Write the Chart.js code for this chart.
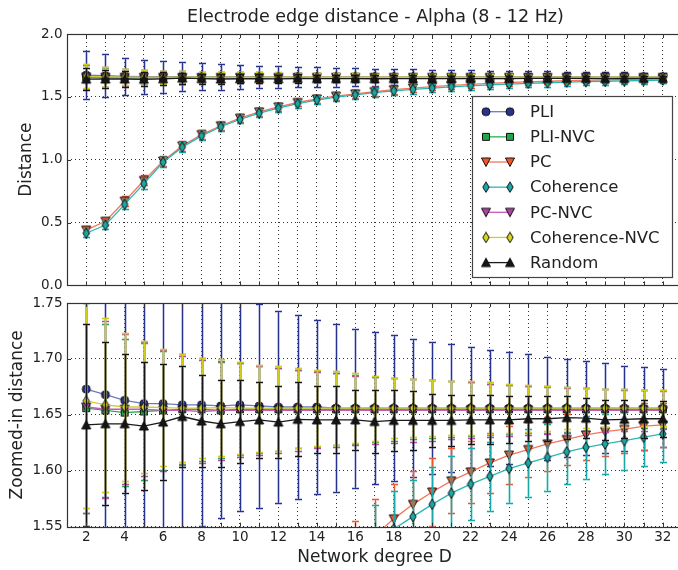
<!DOCTYPE html>
<html>
<head>
<meta charset="utf-8">
<script src="https://cdn.jsdelivr.net/npm/chart.js@4.4.1/dist/chart.umd.min.js"></script>
<style>
  html, body { margin: 0; padding: 0; background: #fff; overflow: hidden; }
  #wrap { position: relative; width: 678px; height: 570px; overflow: hidden; }
  canvas { position: absolute; left: 0; }
  #topChart { top: 0; }
  #bottomChart { top: 290px; }
</style>
</head>
<body>
<div id="wrap">
  <canvas id="topChart" width="690" height="298"></canvas>
  <canvas id="bottomChart" width="690" height="280"></canvas>
</div>
<script>
// Network degree D
const degrees = [2, 3, 4, 5, 6, 7, 8, 9, 10, 11, 12, 13, 14, 15, 16, 17, 18, 19, 20, 21, 22, 23, 24, 25, 26, 27, 28, 29, 30, 31, 32];

// mean distance and error (std) per method
const pliMean = [1.673, 1.668, 1.663, 1.660, 1.660, 1.659, 1.659, 1.658, 1.659, 1.658, 1.657, 1.657, 1.657, 1.656, 1.656, 1.656, 1.656, 1.656, 1.656, 1.656, 1.656, 1.656, 1.656, 1.656, 1.656, 1.656, 1.656, 1.656, 1.656, 1.656, 1.656];
const pliErr = [0.190, 0.170, 0.150, 0.135, 0.126, 0.116, 0.108, 0.100, 0.095, 0.091, 0.086, 0.082, 0.078, 0.075, 0.071, 0.068, 0.065, 0.062, 0.059, 0.057, 0.055, 0.052, 0.050, 0.048, 0.046, 0.044, 0.042, 0.040, 0.038, 0.037, 0.035];

const pliNvcMean = [1.656, 1.654, 1.652, 1.653, 1.654, 1.655, 1.655, 1.654, 1.655, 1.655, 1.655, 1.655, 1.655, 1.655, 1.655, 1.655, 1.655, 1.655, 1.655, 1.655, 1.655, 1.655, 1.655, 1.655, 1.655, 1.655, 1.655, 1.655, 1.655, 1.655, 1.655];
const pliNvcErr = [0.094, 0.077, 0.066, 0.061, 0.053, 0.049, 0.046, 0.043, 0.041, 0.039, 0.037, 0.035, 0.034, 0.032, 0.031, 0.029, 0.028, 0.027, 0.026, 0.025, 0.024, 0.023, 0.022, 0.021, 0.021, 0.020, 0.019, 0.018, 0.018, 0.017, 0.017];

const pcMean = [0.440, 0.510, 0.670, 0.835, 0.990, 1.110, 1.200, 1.270, 1.330, 1.380, 1.420, 1.455, 1.483, 1.505, 1.524, 1.542, 1.557, 1.570, 1.581, 1.591, 1.599, 1.607, 1.614, 1.619, 1.624, 1.628, 1.632, 1.635, 1.637, 1.640, 1.641];
const pcErr = [0.025, 0.030, 0.040, 0.040, 0.040, 0.037, 0.035, 0.033, 0.032, 0.031, 0.031, 0.030, 0.030, 0.030, 0.031, 0.033, 0.031, 0.030, 0.030, 0.029, 0.028, 0.027, 0.026, 0.025, 0.024, 0.023, 0.022, 0.022, 0.021, 0.021, 0.020];

const cohMean = [0.415, 0.480, 0.645, 0.810, 0.980, 1.100, 1.190, 1.262, 1.320, 1.370, 1.410, 1.446, 1.474, 1.497, 1.516, 1.534, 1.548, 1.559, 1.570, 1.580, 1.588, 1.595, 1.602, 1.607, 1.612, 1.617, 1.621, 1.624, 1.627, 1.630, 1.633];
const cohErr = [0.030, 0.035, 0.040, 0.040, 0.040, 0.037, 0.035, 0.033, 0.032, 0.032, 0.032, 0.032, 0.032, 0.032, 0.033, 0.035, 0.034, 0.033, 0.033, 0.033, 0.032, 0.031, 0.031, 0.030, 0.030, 0.029, 0.028, 0.027, 0.026, 0.026, 0.025];

const pcNvcMean = [1.657, 1.655, 1.655, 1.655, 1.654, 1.654, 1.653, 1.654, 1.654, 1.654, 1.654, 1.654, 1.654, 1.654, 1.654, 1.654, 1.654, 1.654, 1.654, 1.654, 1.654, 1.654, 1.654, 1.654, 1.654, 1.654, 1.654, 1.654, 1.654, 1.654, 1.654];
const pcNvcErr = [0.095, 0.079, 0.067, 0.060, 0.054, 0.049, 0.046, 0.044, 0.042, 0.040, 0.038, 0.036, 0.034, 0.033, 0.031, 0.030, 0.029, 0.028, 0.027, 0.026, 0.025, 0.024, 0.023, 0.022, 0.021, 0.020, 0.020, 0.019, 0.018, 0.018, 0.017];

const cohNvcMean = [1.6625, 1.659, 1.657, 1.657, 1.6565, 1.656, 1.656, 1.6565, 1.656, 1.656, 1.656, 1.656, 1.656, 1.656, 1.656, 1.656, 1.656, 1.656, 1.656, 1.656, 1.656, 1.656, 1.656, 1.656, 1.656, 1.656, 1.656, 1.656, 1.656, 1.656, 1.656];
const cohNvcErr = [0.096, 0.078, 0.066, 0.059, 0.052, 0.048, 0.045, 0.043, 0.041, 0.039, 0.038, 0.036, 0.034, 0.033, 0.031, 0.029, 0.027, 0.026, 0.025, 0.024, 0.024, 0.023, 0.022, 0.021, 0.020, 0.019, 0.018, 0.017, 0.017, 0.016, 0.016];

const randMean = [1.641, 1.642, 1.642, 1.640, 1.6435, 1.6485, 1.6445, 1.642, 1.644, 1.6455, 1.6435, 1.646, 1.6455, 1.6455, 1.6455, 1.644, 1.645, 1.645, 1.645, 1.645, 1.6455, 1.6455, 1.6455, 1.6465, 1.6465, 1.6475, 1.647, 1.6455, 1.646, 1.6465, 1.6465];
const randErr = [0.090, 0.073, 0.062, 0.057, 0.052, 0.045, 0.041, 0.039, 0.037, 0.034, 0.032, 0.033, 0.030, 0.030, 0.027, 0.028, 0.027, 0.026, 0.024, 0.023, 0.022, 0.022, 0.021, 0.020, 0.020, 0.019, 0.018, 0.018, 0.017, 0.017, 0.016];

const topTicks = [0, 0.5, 1.0, 1.5, 2.0];
const zoomTicks = [1.55, 1.60, 1.65, 1.70, 1.75];

const FONT = '"DejaVu Sans", "Liberation Sans", sans-serif';
Chart.defaults.font.family = FONT;
Chart.defaults.color = "#222";

// marker glyphs drawn once, used by the chart and by the legend
function makeMarker(shape, fill) {
  const c = document.createElement("canvas");
  c.width = 12;
  c.height = 12;
  const g = c.getContext("2d");
  g.fillStyle = fill;
  g.strokeStyle = "#111";
  g.lineWidth = 1;
  g.beginPath();
  if (shape === "circle") g.arc(6, 6, 4, 0, Math.PI * 2);
  else if (shape === "square") g.rect(2.5, 2.5, 7, 7);
  else if (shape === "up") { g.moveTo(6, 1.5); g.lineTo(10.5, 10); g.lineTo(1.5, 10); g.closePath(); }
  else if (shape === "down") { g.moveTo(6, 10.5); g.lineTo(10.5, 2); g.lineTo(1.5, 2); g.closePath(); }
  else if (shape === "diamond") { g.moveTo(6, 0.8); g.lineTo(9.2, 6); g.lineTo(6, 11.2); g.lineTo(2.8, 6); g.closePath(); }
  g.fill();
  g.stroke();
  return c;
}

const SERIES = [
  { label: "PLI", mean: pliMean, err: pliErr, shape: "circle", fill: "#283290", line: "#7078bc", errColor: "#28328f", halo: "rgba(90,100,190,0.35)" },
  { label: "PLI-NVC", mean: pliNvcMean, err: pliNvcErr, shape: "square", fill: "#1fa54c", line: "#22b04c", errColor: "#1fa54c", halo: "rgba(40,180,80,0.3)" },
  { label: "PC", mean: pcMean, err: pcErr, shape: "down", fill: "#f0552a", line: "#f2775a", errColor: "#f0552a", halo: "rgba(245,120,90,0.35)" },
  { label: "Coherence", mean: cohMean, err: cohErr, shape: "diamond", fill: "#1aa7a7", line: "#2db6b0", errColor: "#1aa7a7", halo: "rgba(40,190,185,0.35)" },
  { label: "PC-NVC", mean: pcNvcMean, err: pcNvcErr, shape: "down", fill: "#a8459e", line: "#c35ab8", errColor: "#b04aa6", halo: "rgba(200,100,190,0.3)" },
  { label: "Coherence-NVC", mean: cohNvcMean, err: cohNvcErr, shape: "diamond", fill: "#d8d41c", line: "#cfcb3a", errColor: "#d0cc1c", halo: "rgba(215,210,60,0.4)" },
  { label: "Random", mean: randMean, err: randErr, shape: "up", fill: "#151515", line: "#1a1a1a", errColor: "#151515", halo: "rgba(60,60,60,0.3)" },
];

function buildDatasets() {
  return SERIES.map((s, i) => ({
    label: s.label,
    data: degrees.map((d, k) => ({ x: d, y: s.mean[k] })),
    err: s.err,
    errColor: s.errColor,
    errHalo: s.halo,
    borderColor: s.line,
    borderWidth: 1.3,
    pointStyle: makeMarker(s.shape, s.fill),
    pointRadius: 4,
    tension: 0,
    fill: false,
    order: SERIES.length - i,
  }));
}

// error bars for each dataset, drawn just before that dataset's line
const errorBars = {
  id: "errorBars",
  beforeDatasetDraw(chart, args) {
    const ds = chart.data.datasets[args.index];
    if (!ds.err) return;
    const { ctx, chartArea: a } = chart;
    const ys = chart.scales.y;
    ctx.save();
    ctx.beginPath();
    ctx.rect(a.left, a.top, a.right - a.left, a.bottom - a.top);
    ctx.clip();
    [[ds.errHalo, 3], [ds.errColor, 1]].forEach(([color, lw]) => {
      ctx.strokeStyle = color;
      ctx.lineWidth = lw;
      ctx.beginPath();
      args.meta.data.forEach((pt, i) => {
        const v = ds.data[i].y;
        const e = ds.err[i];
        const x = Math.round(pt.x) + 0.5;
        const hi = Math.round(ys.getPixelForValue(v + e)) + 0.5;
        const lo = Math.round(ys.getPixelForValue(v - e)) + 0.5;
        ctx.moveTo(x, hi);
        ctx.lineTo(x, lo);
        ctx.moveTo(x - 3.5, hi);
        ctx.lineTo(x + 3.5, hi);
        ctx.moveTo(x - 3.5, lo);
        ctx.lineTo(x + 3.5, lo);
      });
      ctx.stroke();
    });
    ctx.restore();
  },
};

// axes frame with inward ticks (matplotlib classic look)
const frame = {
  id: "frame",
  afterDatasetsDraw(chart) {
    const { ctx, chartArea: a, scales } = chart;
    ctx.save();
    ctx.strokeStyle = "#333";
    ctx.lineWidth = 1;
    ctx.beginPath();
    scales.x.ticks.forEach((t) => {
      const px = Math.round(scales.x.getPixelForValue(t.value)) + 0.5;
      ctx.moveTo(px, a.top);
      ctx.lineTo(px, a.top + 4);
      ctx.moveTo(px, a.bottom);
      ctx.lineTo(px, a.bottom - 4);
    });
    scales.y.ticks.forEach((t) => {
      const py = Math.round(scales.y.getPixelForValue(t.value)) + 0.5;
      ctx.moveTo(a.left, py);
      ctx.lineTo(a.left + 4, py);
      ctx.moveTo(a.right, py);
      ctx.lineTo(a.right - 4, py);
    });
    ctx.stroke();
    ctx.lineWidth = 1.2;
    ctx.strokeRect(Math.round(a.left) + 0.5, Math.round(a.top) + 0.5, Math.round(a.right - a.left), Math.round(a.bottom - a.top));
    ctx.restore();
  },
};

const titleAndLegend = {
  id: "titleAndLegend",
  afterDraw(chart) {
    const { ctx, chartArea: a } = chart;
    ctx.save();
    ctx.fillStyle = "#222";
    ctx.font = `17.5px ${FONT}`;
    ctx.textAlign = "center";
    ctx.textBaseline = "middle";
    ctx.fillText("Electrode edge distance - Alpha (8 - 12 Hz)", (a.left + a.right) / 2 + 1, 17);

    // legend box inside the axes, lower right
    const bx = 472.5, by = 96.5, bw = 200, bh = 181;
    ctx.fillStyle = "#fff";
    ctx.fillRect(bx, by, bw, bh);
    ctx.strokeStyle = "#444";
    ctx.lineWidth = 1.2;
    ctx.strokeRect(bx, by, bw, bh);
    ctx.textAlign = "left";
    ctx.font = `16.5px ${FONT}`;
    chart.data.datasets.forEach((ds, i) => {
      const y = 111.7 + i * 25.15;
      ctx.strokeStyle = ds.borderColor;
      ctx.lineWidth = 1.3;
      ctx.beginPath();
      ctx.moveTo(486, y);
      ctx.lineTo(510, y);
      ctx.stroke();
      const m = ds.pointStyle;
      ctx.drawImage(m, 486 - m.width / 2, y - m.height / 2);
      ctx.drawImage(m, 510 - m.width / 2, y - m.height / 2);
      ctx.fillStyle = "#222";
      ctx.fillText(ds.label, 530, y + 1);
    });
    ctx.restore();
  },
};

const gridStyle = { color: "rgba(0,0,0,0.8)", lineWidth: 1, drawTicks: false };
const borderStyle = { display: false, dash: [1, 3] };

function makeOptions(yTicks, digits, yTitle, yTitlePad, showX) {
  return {
    responsive: false,
    animation: false,
    events: [],
    layout: { padding: showX ? { top: 13, right: 8, bottom: 0, left: 0 } : { top: 34, right: 8, bottom: 0, left: 0 } },
    plugins: { legend: { display: false }, tooltip: { enabled: false } },
    scales: {
      x: {
        type: "linear",
        min: 1,
        max: 33,
        grid: gridStyle,
        border: borderStyle,
        ticks: {
          display: showX,
          stepSize: 1,
          autoSkip: false,
          maxRotation: 0,
          padding: 3,
          font: { size: 13.5 },
          callback: (v) => (v % 2 === 0 ? String(v) : ""),
        },
        title: showX
          ? { display: true, text: "Network degree D", font: { size: 17 }, padding: { top: 0, bottom: 2 } }
          : { display: false },
        afterFit: (s) => { s.height = showX ? 43.3 : 10; },
      },
      y: {
        min: yTicks[0],
        max: yTicks[yTicks.length - 1],
        grid: gridStyle,
        border: borderStyle,
        afterBuildTicks: (s) => { s.ticks = yTicks.map((v) => ({ value: v })); },
        ticks: {
          padding: 4.5,
          font: { size: 13.5 },
          callback: (v) => Number(v).toFixed(digits),
        },
        title: { display: true, text: yTitle, font: { size: 17 }, padding: { top: yTitlePad, bottom: 0 } },
        afterFit: (s) => { s.width = 67; },
      },
    },
  };
}

new Chart(document.getElementById("topChart"), {
  type: "line",
  data: { datasets: buildDatasets() },
  options: makeOptions(topTicks, 1, "Distance", 16, false),
  plugins: [errorBars, frame, titleAndLegend],
});

new Chart(document.getElementById("bottomChart"), {
  type: "line",
  data: { datasets: buildDatasets() },
  options: makeOptions(zoomTicks, 2, "Zoomed-in distance", 7, true),
  plugins: [errorBars, frame],
});
</script>
</body>
</html>
